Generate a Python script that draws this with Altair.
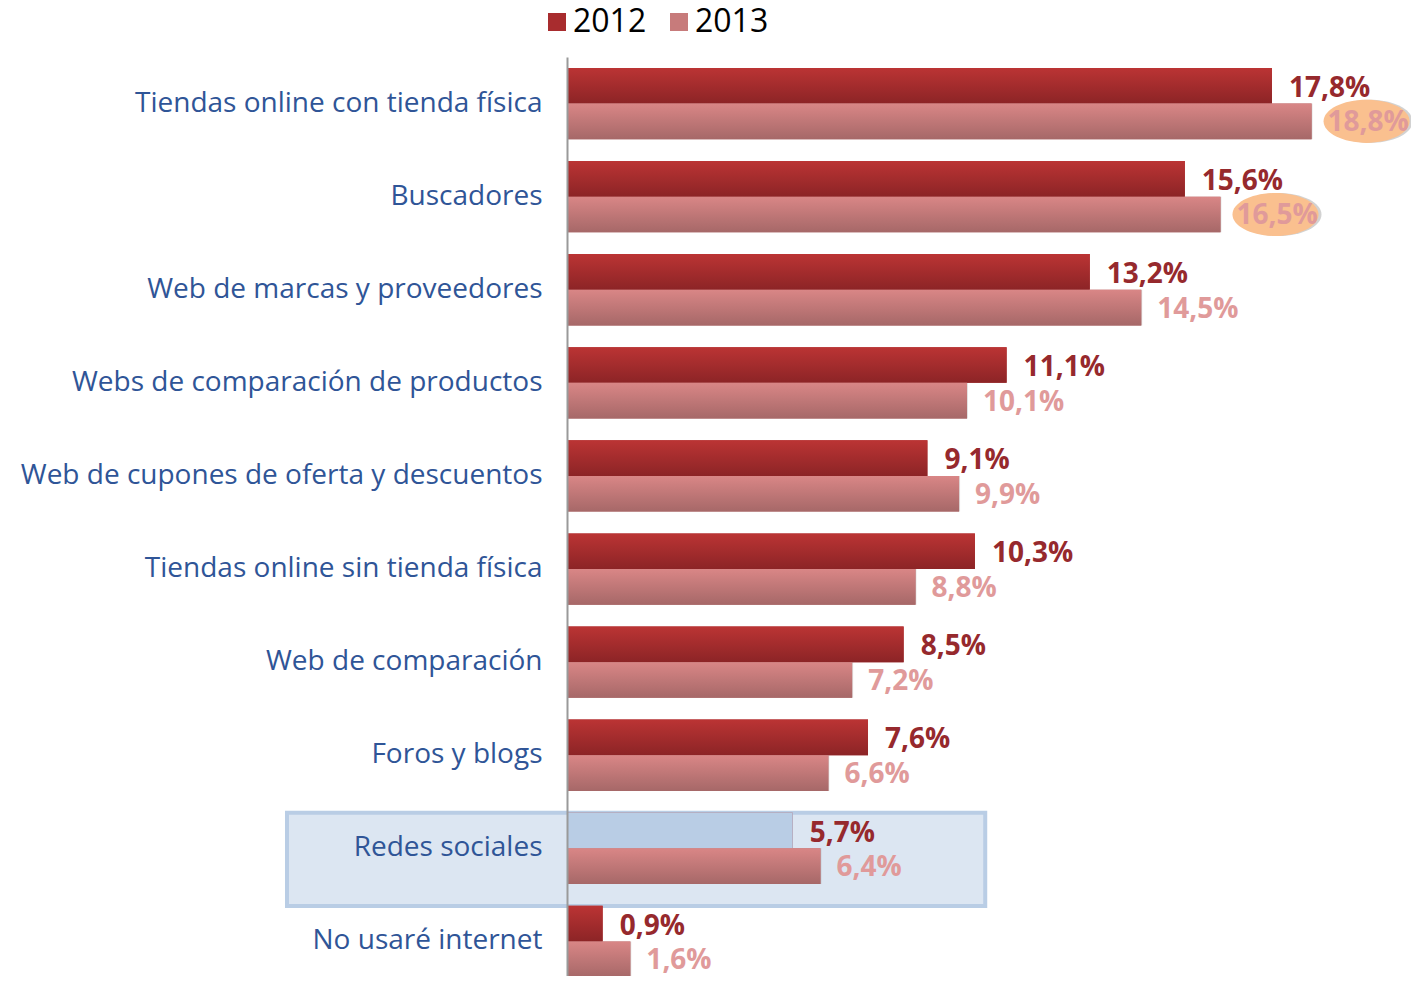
import altair as alt
import pandas as pd

categories = [
    "Tiendas online con tienda física",
    "Buscadores",
    "Web de marcas y proveedores",
    "Webs de comparación de productos",
    "Web de cupones de oferta y descuentos",
    "Tiendas online sin tienda física",
    "Web de comparación",
    "Foros y blogs",
    "Redes sociales",
    "No usaré internet",
]
values_2012 = [17.8, 15.6, 13.2, 11.1, 9.1, 10.3, 8.5, 7.6, 5.7, 0.9]
values_2013 = [18.8, 16.5, 14.5, 10.1, 9.9, 8.8, 7.2, 6.6, 6.4, 1.6]
series = ["2012", "2013"]
highlight = "Redes sociales"
circled = ["Tiendas online con tienda física", "Buscadores"]
highlight_span = [-7.07, 10.56]

rows = []
for c, a, b in zip(categories, values_2012, values_2013):
    rows.append({"cat": c, "serie": "2012", "v": a, "circ": c in circled})
    rows.append({"cat": c, "serie": "2013", "v": b, "circ": c in circled})
df = pd.DataFrame(rows)
df["label"] = df["v"].map(lambda v: f"{v:.1f}".replace(".", ",") + "%")

box_df = pd.DataFrame({"cat": [highlight], "x0": [highlight_span[0]], "x1": [highlight_span[1]]})

FONT = "Open Sans"
ELLIPSE = "M-1,0A1,0.5,0,1,1,1,0A1,0.5,0,1,1,-1,0Z"

xscale = alt.Scale(domain=[0, 21.31], nice=False, zero=True)
y = alt.Y(
    "cat:N",
    sort=categories,
    scale=alt.Scale(paddingInner=0, paddingOuter=0),
    axis=alt.Axis(
        title=None,
        ticks=False,
        labelFontSize=28,
        labelFont=FONT,
        labelColor="#2f5597",
        labelPadding=25,
        labelLimit=700,
        domainColor="#9a9a9a",
        domainWidth=2,
        zindex=1,
    ),
)
yoff = alt.YOffset("serie:N", sort=series, scale=alt.Scale(paddingInner=0, paddingOuter=0.306))
x = alt.X("v:Q", scale=xscale, axis=None)

base = alt.Chart(df)

box = alt.Chart(box_df).mark_rect(
    fill="#dce6f2", stroke="#b9cde5", strokeWidth=4, yOffset=11
).encode(y=y, x=alt.X("x0:Q", scale=xscale, axis=None), x2="x1:Q")

legend_bars = base.mark_bar().encode(
    y=y,
    yOffset=yoff,
    x=x,
    color=alt.Color(
        "serie:N",
        sort=series,
        scale=alt.Scale(domain=series, range=["#a82c2e", "#c77b7b"]),
        legend=alt.Legend(
            title=None,
            orient="none",
            legendX=-26,
            legendY=-51,
            direction="horizontal",
            symbolType="square",
            symbolSize=324,
            symbolStrokeWidth=0,
            labelFontSize=32,
            labelFont=FONT,
            labelColor="black",
            labelOffset=0,
            columnPadding=16,
            padding=0,
        ),
    ),
)

grad2012 = alt.Gradient(
    gradient="linear",
    stops=[alt.GradientStop(color="#bb3434", offset=0), alt.GradientStop(color="#8c2426", offset=1)],
    x1=0, x2=0, y1=0, y2=1,
)
grad2013 = alt.Gradient(
    gradient="linear",
    stops=[alt.GradientStop(color="#d98686", offset=0), alt.GradientStop(color="#a66868", offset=1)],
    x1=0, x2=0, y1=0, y2=1,
)

f2013 = base.transform_filter("datum.serie == '2013'")

shadow1 = f2013.mark_bar(fill="#000000", opacity=0.10, dy=4, y2Offset=4, yOffset=4, xOffset=1, x2Offset=1).encode(
    y=y, yOffset=yoff, x=x
)

bars2012 = base.transform_filter(
    f"datum.serie == '2012' && datum.cat != '{highlight}'"
).mark_bar(fill=grad2012).encode(y=y, yOffset=yoff, x=x)

bar_hl = base.transform_filter(
    f"datum.serie == '2012' && datum.cat == '{highlight}'"
).mark_bar(fill="#b9cde5").encode(y=y, yOffset=yoff, x=x)

bars2013 = f2013.mark_bar(fill=grad2013).encode(y=y, yOffset=yoff, x=x)

circ = base.transform_filter("datum.serie == '2013' && datum.circ")

ellipse_shadow = circ.mark_point(
    shape=ELLIPSE, size=7400, filled=True, fill="#7f7f7f", opacity=0.35, strokeWidth=0, xOffset=58, yOffset=3,
).encode(y=y, yOffset=yoff, x=x)

ellipse = circ.mark_point(
    shape=ELLIPSE, size=7400, filled=True, fill="#fac08f", opacity=1, strokeWidth=0, xOffset=55,
).encode(y=y, yOffset=yoff, x=x)

text2012 = base.transform_filter("datum.serie == '2012'").mark_text(
    align="left", baseline="middle", dx=17, dy=3, fontSize=28, fontWeight="bold", font=FONT, fill="#96292d"
).encode(y=y, yOffset=yoff, x=x, text="label:N")

text2013 = f2013.mark_text(
    align="left", baseline="middle", dx=16, dy=2, fontSize=28, fontWeight="bold", font=FONT, fill="#e09a9a"
).encode(y=y, yOffset=yoff, x=x, text="label:N")

chart = (
    alt.layer(box, legend_bars, shadow1, bars2012, bar_hl, bars2013, ellipse_shadow, ellipse, text2012, text2013)
    .properties(
        width=844,
        height=931,
        padding={"left": 559, "top": 49, "right": 0, "bottom": -12},
        autosize=alt.AutoSizeParams(type="none"),
    )
    .configure_view(stroke=None)
)

chart.save("out.html", embed_options={"renderer": "svg", "actions": False})
